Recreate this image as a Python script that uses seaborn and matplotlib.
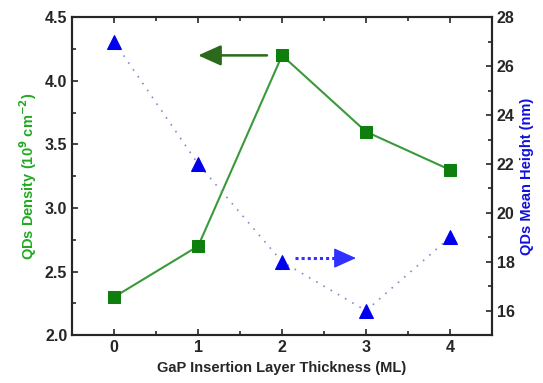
import matplotlib
matplotlib.use("Agg")
import matplotlib.pyplot as plt
import pandas as pd
import seaborn as sns

# data
thickness = [0, 1, 2, 3, 4]
density = [2.3, 2.7, 4.2, 3.6, 3.3]
height = [27, 22, 18, 16, 19]

df = pd.DataFrame({'Thickness': thickness, 'Density': density, 'Height': height})

sns.set_style('ticks')
plt.rcParams['font.family'] = ['Liberation Sans', 'DejaVu Sans']
plt.rcParams['font.weight'] = 'bold'

fig, ax = plt.subplots(figsize=(5.43, 3.83), dpi=100)
fig.subplots_adjust(left=0.133, right=0.906, top=0.955, bottom=0.125)

green = '#0e7e0e'
blue = '#0000ee'

sns.lineplot(data=df, x='Thickness', y='Density', ax=ax, color='#3a9a3a',
             linewidth=1.5, marker='s', markersize=8.5, markerfacecolor=green,
             markeredgecolor=green)
ax.set_xlim(-0.5, 4.5)
ax.set_ylim(2.0, 4.5)
ax.set_xticks([0, 1, 2, 3, 4])
ax.set_xticks([0.5, 1.5, 2.5, 3.5], minor=True)
ax.set_yticks([2.0, 2.5, 3.0, 3.5, 4.0, 4.5])
ax.set_yticks([2.25, 2.75, 3.25, 3.75, 4.25], minor=True)
ax.set_yticklabels(['2.0', '2.5', '3.0', '3.5', '4.0', '4.5'])
ax.set_xlabel('GaP Insertion Layer Thickness (ML)', fontsize=10.5, fontweight='bold')
ax.set_ylabel('QDs Density (10$^{\\mathbf{9}}$ cm$^{\\mathbf{-2}}$)', fontsize=10.5,
              fontweight='bold', color='#22aa22')

ax2 = ax.twinx()
sns.lineplot(data=df, x='Thickness', y='Height', ax=ax2, color='#8888cc',
             linewidth=1.2, linestyle=(0, (1, 4)), marker='^', markersize=10,
             markerfacecolor=blue, markeredgecolor=blue)
ax2.set_ylim(15, 28)
ax2.set_yticks([16, 18, 20, 22, 24, 26, 28])
ax2.set_yticks([17, 19, 21, 23, 25, 27], minor=True)
ax2.set_ylabel('QDs Mean Height (nm)', fontsize=10.5, fontweight='bold', color='#1010dd')

for a in (ax, ax2):
    a.tick_params(which='both', direction='in', labelsize=11.5, width=1.2)
    a.tick_params(which='major', length=4)
    a.tick_params(which='minor', length=3)
    for s in a.spines.values():
        s.set_linewidth(1.5)
        s.set_visible(True)
ax.tick_params(axis='x', top=True, which='both')

# arrows pointing to the axes
ax.annotate('', xy=(1.0, 4.2), xytext=(1.82, 4.2),
            arrowprops=dict(arrowstyle='-|>,head_length=1.0,head_width=0.45',
                            mutation_scale=14, color='#2a6a1a', lw=1.8,
                            shrinkA=0, shrinkB=0))
ax2.plot([2.15, 2.72], [18.15, 18.15], color='#3030ff', lw=2.2, linestyle=(0, (1, 1)))
ax2.annotate('', xy=(2.88, 18.15), xytext=(2.70, 18.15),
             arrowprops=dict(arrowstyle='-|>,head_length=1.0,head_width=0.45',
                             mutation_scale=14, color='#3030ff', lw=1.0,
                             shrinkA=0, shrinkB=0))

fig.savefig('out.png', dpi=100)
